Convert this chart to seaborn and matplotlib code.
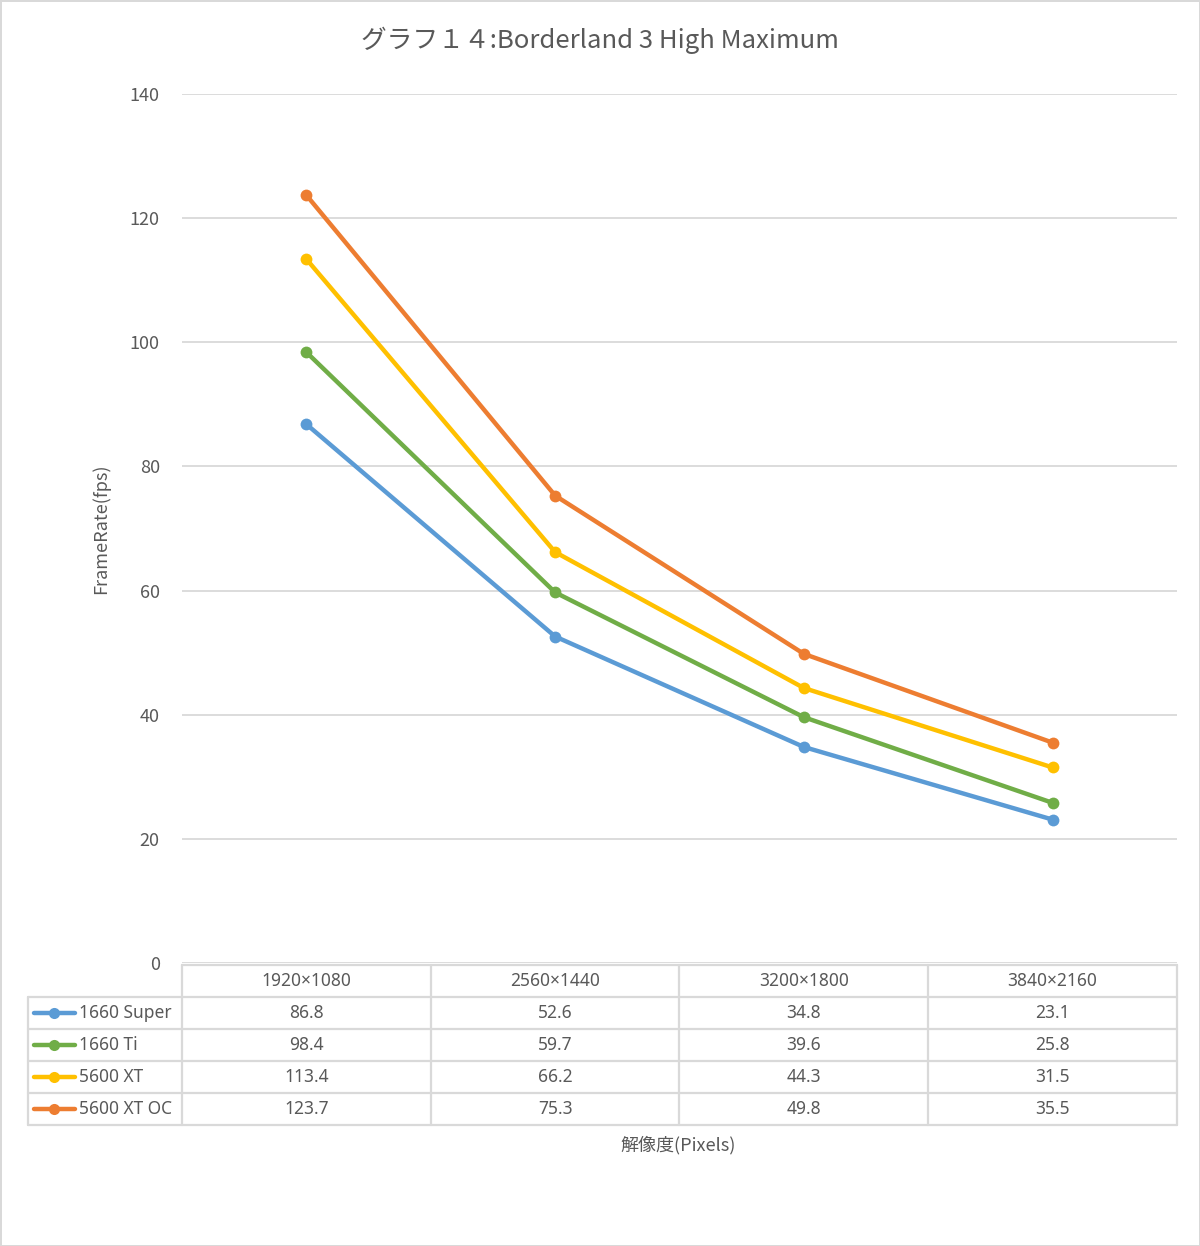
import pandas as pd
import matplotlib.pyplot as plt
import seaborn as sns

# Data
resolutions = ['1920×1080', '2560×1440', '3200×1800', '3840×2160']
gpus = ['1660 Super', '1660 Ti', '5600 XT', '5600 XT OC']
fps_1660_super = [86.8, 52.6, 34.8, 23.1]
fps_1660_ti = [98.4, 59.7, 39.6, 25.8]
fps_5600_xt = [113.4, 66.2, 44.3, 31.5]
fps_5600_xt_oc = [123.7, 75.3, 49.8, 35.5]
colors = ['#5B9BD5', '#70AD47', '#FFC000', '#ED7D31']

series = [fps_1660_super, fps_1660_ti, fps_5600_xt, fps_5600_xt_oc]
rows = []
for gpu, vals in zip(gpus, series):
    for i, v in enumerate(vals):
        rows.append({'gpu': gpu, 'res': i, 'fps': v})
df = pd.DataFrame(rows)

sns.set_style('white')
plt.rcParams['font.family'] = ['Noto Sans CJK JP', 'DejaVu Sans']
latin = ['Noto Sans', 'DejaVu Sans']
text_color = '#595959'
grid_color = '#D9D9D9'

W, H = 1200, 1246
fig = plt.figure(figsize=(W / 100, H / 100), dpi=100)
fig.patch.set_edgecolor(grid_color)
fig.patch.set_linewidth(2)

# plot area: x 182..1177 px, y 94..963 px
ax = fig.add_axes([182 / W, (H - 963) / H, 995 / W, 869 / H])
sns.lineplot(data=df, x='res', y='fps', hue='gpu', hue_order=gpus,
             palette=colors, marker='o', markersize=8.5, markeredgewidth=0,
             linewidth=3.2, legend=False, ax=ax)
ax.set_xlim(-0.5, 3.5)
ax.set_ylim(0, 140)
ax.set_yticks(range(0, 141, 20))
ax.set_xticks([])
ax.grid(axis='y', color=grid_color, linewidth=1.3)
ax.set_axisbelow(True)
for s in ax.spines.values():
    s.set_visible(False)
ax.tick_params(axis='y', length=0, pad=16, labelsize=13, labelcolor=text_color)
ax.set_xlabel('')
ax.set_ylabel('FrameRate(fps)', fontsize=13, color=text_color, labelpad=14)

fig.text(0.5, 1 - 40 / H, 'グラフ１４:Borderland 3 High Maximum', ha='center',
         va='center', fontsize=18.5, color=text_color)

# data table below the plot: x 28..1177 px, y 965..1125 px
col_w = 995 / 4
left = -0.5 - (182 - 28) / col_w
tab = fig.add_axes([28 / W, (H - 1125) / H, 1149 / W, 160 / H])
tab.set_xlim(left, 3.5)
tab.set_ylim(5, 0)
tab.axis('off')


def px(x):
    return left + (x - 28) / col_w


lw = 1.6
# horizontal borders
tab.plot([-0.5, 3.5], [0, 0], color=grid_color, lw=lw, clip_on=False)
for r in range(1, 6):
    tab.plot([left, 3.5], [r, r], color=grid_color, lw=lw, clip_on=False)
# vertical borders
tab.plot([left, left], [1, 5], color=grid_color, lw=lw, clip_on=False)
for c in range(5):
    tab.plot([c - 0.5, c - 0.5], [0, 5], color=grid_color, lw=lw, clip_on=False)

for i, res in enumerate(resolutions):
    tab.text(i, 0.5, res, ha='center', va='center', fontsize=12.5,
             color=text_color, family=latin)
for r, (gpu, vals, col) in enumerate(zip(gpus, series, colors)):
    y = r + 1.5
    tab.plot([px(34), px(75)], [y, y], color=col, lw=3.2, solid_capstyle='round')
    tab.plot([px(54)], [y], marker='o', color=col, markersize=8, markeredgewidth=0)
    tab.text(px(79), y, gpu, ha='left', va='center', fontsize=12.5,
             color=text_color, family=latin)
    for i, v in enumerate(vals):
        tab.text(i, y, f'{v:.1f}', ha='center', va='center', fontsize=12.5,
                 color=text_color, family=latin)

fig.text(678 / W, 1 - 1145 / H, '解像度(Pixels)', ha='center', va='center',
         fontsize=13, color=text_color)

fig.savefig('out.png', dpi=100)
